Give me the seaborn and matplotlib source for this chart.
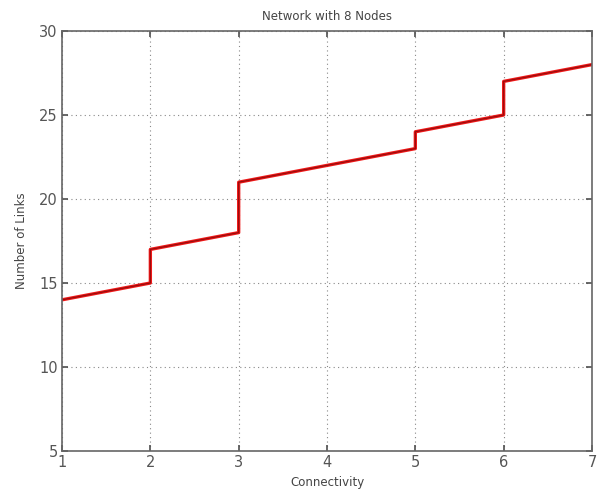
import matplotlib
matplotlib.use("Agg")
import matplotlib.pyplot as plt
import seaborn as sns
import pandas as pd

# Number of links required for each connectivity level (step at each increase)
connectivity = [1, 2, 2, 3, 3, 5, 5, 6, 6, 7]
links = [14, 15, 17, 18, 21, 23, 24, 25, 27, 28]
x_ticks = [1, 2, 3, 4, 5, 6, 7]
y_ticks = [5, 10, 15, 20, 25, 30]

sns.set_theme(style="white")
plt.rcParams["font.family"] = ["DejaVu Sans"]

df = pd.DataFrame({"Connectivity": connectivity, "Links": links})

fig = plt.figure(figsize=(5.97, 4.96), dpi=100)
ax = fig.add_axes([0.1039, 0.0907, 0.8877, 0.8468])

sns.lineplot(data=df, x="Connectivity", y="Links", estimator=None, sort=False,
             color="#f01818", linewidth=2.4, ax=ax)
sns.lineplot(data=df, x="Connectivity", y="Links", estimator=None, sort=False,
             color="#9a0c0c", linewidth=0.9, ax=ax)

ax.set_xlim(1, 7)
ax.set_ylim(5, 30)
ax.set_xticks(x_ticks)
ax.set_yticks(y_ticks)
ax.grid(True, linestyle=(0, (1, 3)), color="#888888", linewidth=0.8)
ax.tick_params(direction="in", length=4, colors="#555555", labelsize=10.5,
               top=True, right=True, bottom=True, left=True, pad=3)
for side in ax.spines.values():
    side.set_color("#666666")
    side.set_linewidth(1.2)

ax.set_title("Network with 8 Nodes", fontsize=8.5, color="#444444", pad=8)
ax.set_xlabel("Connectivity", fontsize=8.5, color="#444444", labelpad=4)
ax.set_ylabel("Number of Links", fontsize=8.5, color="#444444", labelpad=8)

fig.savefig("out.png", dpi=100)
